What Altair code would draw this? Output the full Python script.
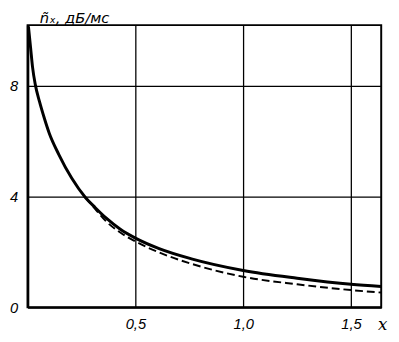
import altair as alt
import pandas as pd

# solid curve
solid_x = [0.004, 0.014, 0.023, 0.036, 0.055, 0.077, 0.1, 0.145, 0.205, 0.268, 0.314, 0.365, 0.43, 0.5, 0.61, 0.76, 1.0, 1.25, 1.5, 1.64]
solid_y = [10.15, 9.38, 8.68, 8.04, 7.44, 6.85, 6.3, 5.52, 4.66, 3.97, 3.6, 3.22, 2.82, 2.5, 2.12, 1.75, 1.33, 1.05, 0.83, 0.75]
# dashed curve
dash_x = [0.268, 0.314, 0.365, 0.43, 0.5, 0.61, 0.76, 1.0, 1.25, 1.5, 1.64]
dash_y = [3.97, 3.55, 3.1, 2.7, 2.38, 1.98, 1.57, 1.1, 0.83, 0.62, 0.53]

x_ticks = [0.5, 1.0, 1.5]
y_ticks = [0, 4, 8]

df = pd.concat([
    pd.DataFrame({"x": solid_x, "y": solid_y, "s": "solid"}),
    pd.DataFrame({"x": dash_x, "y": dash_y, "s": "dashed"}),
])

FONT = "Liberation Sans"

xscale = alt.Scale(domain=[0, 1.64], nice=False, zero=False)
yscale = alt.Scale(domain=[0, 10.2], nice=False)

base = alt.Chart(df)

solid = base.transform_filter(alt.datum.s == "solid").mark_line(
    color="black", strokeWidth=3, interpolate="monotone"
).encode(
    x=alt.X("x:Q", scale=xscale, axis=alt.Axis(
        values=x_ticks, grid=True, gridColor="black", gridWidth=1.3, gridOpacity=1,
        domainColor="black", domainWidth=2, ticks=False,
        labelExpr="replace(format(datum.value, '.1f'), '.', ',')",
        labelFont=FONT, labelFontStyle="italic", labelFontSize=15, labelColor="black",
        labelPadding=10,
        title="x", titleFont="DejaVu Serif", titleFontStyle="italic", titleFontWeight="normal",
        titleFontSize=17, titleColor="black", titleX=362, titleY=18,
        titleAlign="center", titleBaseline="middle", titleAnchor="start")),
    y=alt.Y("y:Q", scale=yscale, axis=alt.Axis(
        values=y_ticks, grid=True, gridColor="black", gridWidth=1.3, gridOpacity=1,
        domainColor="black", domainWidth=2.5, ticks=False,
        labelFont=FONT, labelFontStyle="italic", labelFontSize=15, labelColor="black",
        labelPadding=10,
        title="ñₓ, дБ/мс", titleFont="DejaVu Sans", titleFontStyle="italic", titleFontWeight="normal",
        titleFontSize=15, titleColor="black", titleAngle=0, titleX=12, titleY=-8,
        titleAlign="left", titleBaseline="middle", titleAnchor="start")),
)

dashed = base.transform_filter(alt.datum.s == "dashed").mark_line(
    color="black", strokeWidth=2, strokeDash=[8, 4], interpolate="monotone"
).encode(
    x=alt.X("x:Q", scale=xscale),
    y=alt.Y("y:Q", scale=yscale),
)

chart = alt.layer(solid, dashed).properties(
    width=361, height=288,
    padding={"left": 20, "top": 14, "right": 10, "bottom": 32},
    autosize=alt.AutoSizeParams(type="none"),
    background="white",
).configure_view(stroke="black", strokeWidth=2)

chart.save("out.html", embed_options={"renderer": "svg", "actions": False})
